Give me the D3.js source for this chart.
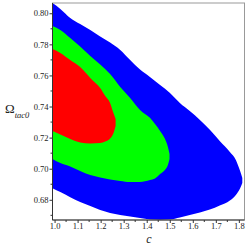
<!DOCTYPE html>
<html>
<head>
<meta charset="utf-8">
<script src="https://cdn.jsdelivr.net/npm/d3@7"></script>
<style>
body { margin: 0; background: #fff; }
</style>
</head>
<body>
<script>
// region boundaries: for each c, lower and upper Omega
var cBlue = [0.991, 1.025, 1.068, 1.111, 1.155, 1.198, 1.241, 1.285, 1.328, 1.371, 1.414,
             1.458, 1.501, 1.544, 1.587, 1.631, 1.674, 1.717, 1.761, 1.787, 1.804, 1.815];
var blueTop = [0.8066, 0.8028, 0.7970, 0.7931, 0.7893, 0.7851, 0.7812, 0.7764, 0.7699, 0.7638, 0.7590,
               0.7538, 0.7487, 0.7423, 0.7371, 0.7314, 0.7250, 0.7178, 0.7107, 0.7056, 0.6991, 0.6940];
var blueBottom = [0.6875, 0.6850, 0.6817, 0.6786, 0.6760, 0.6734, 0.6715, 0.6702, 0.6692, 0.6683, 0.6673,
                  0.6670, 0.6673, 0.6686, 0.6702, 0.6718, 0.6737, 0.6763, 0.6795, 0.6831, 0.6869, 0.6908];

var cGreen = [0.991, 1.025, 1.068, 1.111, 1.155, 1.198, 1.241, 1.285, 1.328, 1.371, 1.414,
              1.436, 1.458, 1.479, 1.492, 1.499];
var greenTop = [0.7918, 0.7893, 0.7841, 0.7786, 0.7725, 0.7671, 0.7609, 0.7526, 0.7455, 0.7378, 0.7327,
                0.7288, 0.7243, 0.7192, 0.7140, 0.7095];
var greenBottom = [0.7062, 0.7036, 0.7014, 0.6985, 0.6959, 0.6943, 0.6931, 0.6921, 0.6914, 0.6914, 0.6927,
                   0.6937, 0.6966, 0.6992, 0.7024, 0.7062];

var cRed = [0.991, 1.025, 1.068, 1.111, 1.155, 1.198, 1.22, 1.241, 1.254, 1.265];
var redTop = [0.7770, 0.7745, 0.7699, 0.7654, 0.7584, 0.7519, 0.7468, 0.7423, 0.7365, 0.7320];
var redBottom = [0.7243, 0.7220, 0.7191, 0.7169, 0.7162, 0.7165, 0.7175, 0.7194, 0.7223, 0.7275];

var xTicks = [1.0, 1.1, 1.2, 1.3, 1.4, 1.5, 1.6, 1.7, 1.8];
var xMinor = [1.05, 1.15, 1.25, 1.35, 1.45, 1.55, 1.65, 1.75];
var yTicks = [0.68, 0.70, 0.72, 0.74, 0.76, 0.78, 0.80];
var yMinor = [0.67, 0.69, 0.71, 0.73, 0.75, 0.77, 0.79];

var w = 249;
var h = 249;
var pL = 52.5, pR = 244.5, pT = 3, pB = 220;

var svg = d3.select("body")
            .append("svg")
            .attr("width", w)
            .attr("height", h);

var xScale = d3.scaleLinear()
               .domain([0.991, 1.8245])
               .range([pL, pR]);
var yScale = d3.scaleLinear()
               .domain([0.667, 0.8066])
               .range([pB, pT]);

svg.append("clipPath")
   .attr("id", "clip")
   .append("rect")
   .attr("x", pL)
   .attr("y", pT)
   .attr("width", pR - pL)
   .attr("height", pB - pT);

function band(cs, lo, hi) {
    return cs.map(function(c, i) { return { c: c, lo: lo[i], hi: hi[i] }; });
}

var area = d3.area()
             .x(function(d) { return xScale(d.c); })
             .y0(function(d) { return yScale(d.lo); })
             .y1(function(d) { return yScale(d.hi); })
             .curve(d3.curveMonotoneX);

var regions = [
    { data: band(cBlue, blueBottom, blueTop), fill: "#0000ff" },
    { data: band(cGreen, greenBottom, greenTop), fill: "#00ff00" },
    { data: band(cRed, redBottom, redTop), fill: "#ff0000" }
];

svg.append("g")
   .attr("clip-path", "url(#clip)")
   .selectAll("path")
   .data(regions)
   .enter()
   .append("path")
   .attr("d", function(d) { return area(d.data); })
   .attr("fill", function(d) { return d.fill; });

// frame: grey top and right, dark axes left and bottom
svg.append("rect")
   .attr("x", pL)
   .attr("y", pT)
   .attr("width", pR - pL)
   .attr("height", pB - pT)
   .attr("fill", "none")
   .attr("stroke", "#999")
   .attr("stroke-width", 1);

var xAxis = d3.axisBottom(xScale)
              .tickValues(xTicks)
              .tickSize(3)
              .tickFormat(d3.format(".1f"));
var yAxis = d3.axisLeft(yScale)
              .tickValues(yTicks)
              .tickSize(3)
              .tickFormat(d3.format(".2f"));

var gx = svg.append("g")
            .attr("transform", "translate(0," + pB + ")")
            .call(xAxis);
var gy = svg.append("g")
            .attr("transform", "translate(" + pL + ",0)")
            .call(yAxis);

gx.select(".domain").attr("d", "M" + pL + ",0H" + pR);
gy.select(".domain").attr("d", "M0," + pT + "V" + pB);

[gx, gy].forEach(function(g) {
    g.select(".domain").attr("stroke", "#333");
    g.selectAll(".tick line").attr("stroke", "#333");
    g.selectAll(".tick text")
     .attr("font-family", "Liberation Serif, serif")
     .attr("font-size", "8.5px")
     .attr("fill", "#222");
});
gx.selectAll(".tick text").attr("dy", "0.6em").attr("y", 4);
gy.selectAll(".tick text").attr("x", -4);

svg.append("g")
   .selectAll("line")
   .data(xMinor)
   .enter()
   .append("line")
   .attr("x1", function(d) { return xScale(d); })
   .attr("x2", function(d) { return xScale(d); })
   .attr("y1", pB)
   .attr("y2", pB + 2)
   .attr("stroke", "#333");

svg.append("g")
   .selectAll("line")
   .data(yMinor)
   .enter()
   .append("line")
   .attr("x1", pL - 2)
   .attr("x2", pL)
   .attr("y1", function(d) { return yScale(d); })
   .attr("y2", function(d) { return yScale(d); })
   .attr("stroke", "#333");

// axis titles
svg.append("text")
   .attr("x", 149)
   .attr("y", 243)
   .attr("text-anchor", "middle")
   .attr("font-family", "Liberation Serif, serif")
   .attr("font-style", "italic")
   .attr("font-size", "12px")
   .attr("fill", "#222")
   .text("c");

var yTitle = svg.append("text")
   .attr("x", 5)
   .attr("y", 113)
   .attr("font-family", "Liberation Serif, serif")
   .attr("fill", "#222");
yTitle.append("tspan")
   .attr("font-size", "13px")
   .text("Ω");
yTitle.append("tspan")
   .attr("font-size", "8.5px")
   .attr("font-style", "italic")
   .attr("dy", 5)
   .text("tac0");
</script>
</body>
</html>
